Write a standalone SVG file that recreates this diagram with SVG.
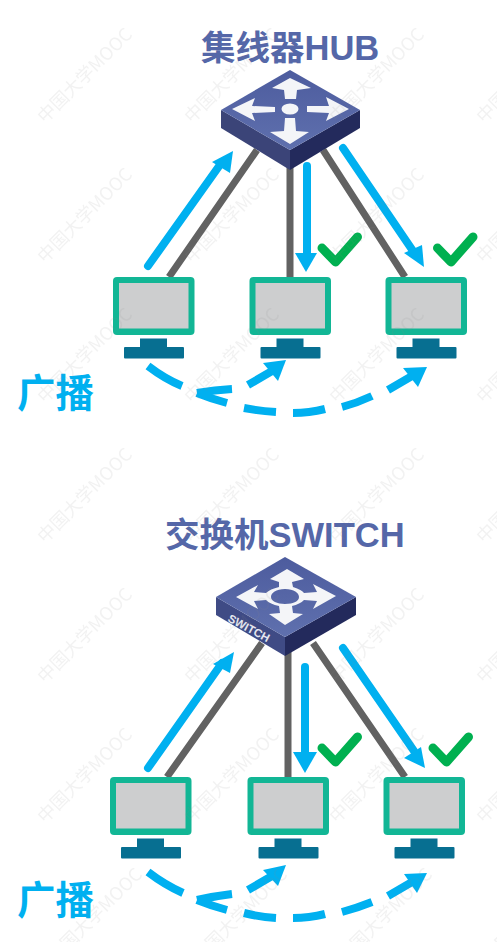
<svg xmlns="http://www.w3.org/2000/svg" xmlns:xlink="http://www.w3.org/1999/xlink" width="497" height="942" viewBox="0 0 497 942">
<style>
text{font-family:"Liberation Sans","Noto Sans CJK SC",sans-serif;font-weight:700}
.title{font-size:34.500px;fill:#5567a8}
.bc{font-size:38.500px;fill:#00b0f0;font-family:"Noto Sans CJK SC",sans-serif}
.wire{stroke:#626262;stroke-width:7;fill:none}
.flow{stroke:#00b0f0;stroke-width:8;fill:none;stroke-linecap:round}
.dash{stroke:#00b0f0;stroke-width:8;fill:none}
.head{fill:#00b0f0}
.ok{stroke:#00b050;stroke-width:9;fill:none;stroke-linecap:round;stroke-linejoin:round}
.wm{font-size:18px;font-weight:400;fill:#8a8a8a;font-family:"Noto Sans CJK SC",sans-serif}
</style>
<defs>
<linearGradient id="top" x1="0" y1="0" x2="0" y2="1"><stop offset="0" stop-color="#4d5c9e"/><stop offset="1" stop-color="#5f70ae"/></linearGradient>
<g id="pc">
<rect x="0" y="0" width="81.500" height="58" rx="4" fill="#12b695"/>
<rect x="6" y="6" width="69.500" height="45.500" fill="#cdcecf"/>
<rect x="27" y="61.500" width="27" height="9" fill="#076f91"/>
<rect x="11" y="70" width="60" height="11.500" rx="1" fill="#076f91"/>
</g>
<path id="tick" class="ok" d="M0 0L13.500 14L35.500 -11"/>
</defs>

<g id="connectors">
<path class="wire" d="M257 150L169 277M290 165V277M323 150L405 277"/>
<path class="wire" d="M262 643L167 777M288 650V777M313 643L405 777"/>
<path class="flow" d="M148 266L222 162"/><polygon class="head" points="233,151 212,162 230,173"/>
<path class="flow" d="M307 166V255"/><polygon class="head" points="306,272 295,253 317,253"/>
<path class="flow" d="M343 148L413 251"/><polygon class="head" points="424,267 404,253 422,245"/>
<path class="flow" d="M148 768L222 663"/><polygon class="head" points="234,652 213,664 230,673"/>
<path class="flow" d="M305 667V755"/><polygon class="head" points="305,773 293,752 317,752"/>
<path class="flow" d="M343 648L414 751"/><polygon class="head" points="425,768 404,758 421,747"/>
<path class="dash" d="M148 366Q165 379 182 386M197 393Q212 399 227 403M244 408Q260 411 276 412M293 413Q309 413 325 409M342 407Q357 403 372 396M388 390L412 376"/>
<path class="dash" d="M197 393Q215 390 232 389M248 385L272 371"/>
<polygon class="head" points="286,360 263,363 278,381"/><polygon class="head" points="427,367 403,368 418,387"/>
<path class="dash" d="M148 872Q165 885 183 893M197 900Q212 906 227 910M244 913Q260 917 276 918M293 918Q309 918 325 914M342 912Q357 908 372 902M388 896L412 882"/>
<path class="dash" d="M197 900Q215 896 232 894M248 890L272 876"/>
<polygon class="head" points="286,865 263,870 278,886"/><polygon class="head" points="427,873 404,874 417,893"/>
</g>

<g id="hub-title"><text class="title" x="201" y="60">集线器HUB</text></g>
<g id="hub">
<polygon points="221,110 290,150 290,170 221,128" fill="#3b4478"/>
<polygon points="360,110 290,150 290,170 360,128" fill="#232a5c"/>
<polygon points="290,70 360,110 290,150 221,110" fill="url(#top)"/>
<g fill="#f4f5f8">
<ellipse cx="290" cy="109" rx="8.500" ry="5.500"/>
<polygon points="290,78 311,88 297,90 296,99 285,99 284,90 272,88"/>
<polygon points="232,109 255,98 252,106 275,107 275,112 252,113 255,121"/>
<polygon points="349,109 326,97 329,106 307,106 307,112 329,113 326,121"/>
<polygon points="290,144 270,132 284,131 285,118 295,118 296,131 309,132"/>
</g>
</g>

<use id="pc-1" xlink:href="#pc" href="#pc" x="113" y="277"/>
<use id="pc-2" xlink:href="#pc" href="#pc" x="249.500" y="277"/>
<use id="pc-3" xlink:href="#pc" href="#pc" x="385.500" y="277"/>
<use id="ok-1" xlink:href="#tick" href="#tick" x="322" y="248"/>
<use id="ok-2" xlink:href="#tick" href="#tick" x="437.500" y="248"/>
<g id="label-1"><text class="bc" x="17" y="407">广播</text></g>

<g id="switch-title"><text class="title" x="165" y="547">交换机SWITCH</text></g>
<g id="switch">
<polygon points="216,597 285,637 285,656 216,615" fill="#3f4b85"/>
<polygon points="356,597 285,637 285,656 356,615" fill="#232a5c"/>
<polygon points="285,557 356,597 285,637 216,597" fill="url(#top)"/>
<text x="227" y="621" transform="rotate(28 227 621)" style="font-size:11.500px;fill:#e4e6ef">SWITCH</text>
<g fill="#f4f5f8">
<path fill-rule="evenodd" d="M287 569L304 579L292 582L293 587Q302 590 304 593L317 592L313 584L336 596L313 609L317 601L304 600Q300 604 292 606L293 613L303 614L285 625L269 614L280 613L279 606Q270 604 266 600L254 601L258 609L236 597L258 585L254 592L266 593Q270 589 279 587L279 582L270 579Z M285 589C276 589 271 593 271 597C271 601 277 604 285 604C294 604 299 601 299 597C299 593 294 589 285 589Z"/>
</g>
</g>

<use id="pc-4" xlink:href="#pc" href="#pc" x="110" y="777"/>
<use id="pc-5" xlink:href="#pc" href="#pc" x="247.500" y="777"/>
<use id="pc-6" xlink:href="#pc" href="#pc" x="383.500" y="777"/>
<use id="ok-3" xlink:href="#tick" href="#tick" x="322" y="748"/>
<use id="ok-4" xlink:href="#tick" href="#tick" x="433" y="748"/>
<g id="label-2"><text class="bc" x="17" y="914">广播</text></g>

<g id="watermarks" opacity=".11">
<text class="wm" transform="translate(45 124) rotate(-45)">中国大学MOOC</text>
<text class="wm" transform="translate(192 124) rotate(-45)">中国大学MOOC</text>
<text class="wm" transform="translate(337 124) rotate(-45)">中国大学MOOC</text>
<text class="wm" transform="translate(484 124) rotate(-45)">中国大学MOOC</text>
<text class="wm" transform="translate(45 264) rotate(-45)">中国大学MOOC</text>
<text class="wm" transform="translate(192 264) rotate(-45)">中国大学MOOC</text>
<text class="wm" transform="translate(337 264) rotate(-45)">中国大学MOOC</text>
<text class="wm" transform="translate(484 264) rotate(-45)">中国大学MOOC</text>
<text class="wm" transform="translate(45 404) rotate(-45)">中国大学MOOC</text>
<text class="wm" transform="translate(192 404) rotate(-45)">中国大学MOOC</text>
<text class="wm" transform="translate(337 404) rotate(-45)">中国大学MOOC</text>
<text class="wm" transform="translate(484 404) rotate(-45)">中国大学MOOC</text>
<text class="wm" transform="translate(45 544) rotate(-45)">中国大学MOOC</text>
<text class="wm" transform="translate(192 544) rotate(-45)">中国大学MOOC</text>
<text class="wm" transform="translate(337 544) rotate(-45)">中国大学MOOC</text>
<text class="wm" transform="translate(484 544) rotate(-45)">中国大学MOOC</text>
<text class="wm" transform="translate(45 684) rotate(-45)">中国大学MOOC</text>
<text class="wm" transform="translate(192 684) rotate(-45)">中国大学MOOC</text>
<text class="wm" transform="translate(337 684) rotate(-45)">中国大学MOOC</text>
<text class="wm" transform="translate(484 684) rotate(-45)">中国大学MOOC</text>
<text class="wm" transform="translate(45 824) rotate(-45)">中国大学MOOC</text>
<text class="wm" transform="translate(192 824) rotate(-45)">中国大学MOOC</text>
<text class="wm" transform="translate(337 824) rotate(-45)">中国大学MOOC</text>
<text class="wm" transform="translate(484 824) rotate(-45)">中国大学MOOC</text>
<text class="wm" transform="translate(55 964) rotate(-45)">中国大学MOOC</text>
<text class="wm" transform="translate(200 964) rotate(-45)">中国大学MOOC</text>
<text class="wm" transform="translate(345 964) rotate(-45)">中国大学MOOC</text>
<text class="wm" transform="translate(490 964) rotate(-45)">中国大学MOOC</text>
</g>
</svg>
